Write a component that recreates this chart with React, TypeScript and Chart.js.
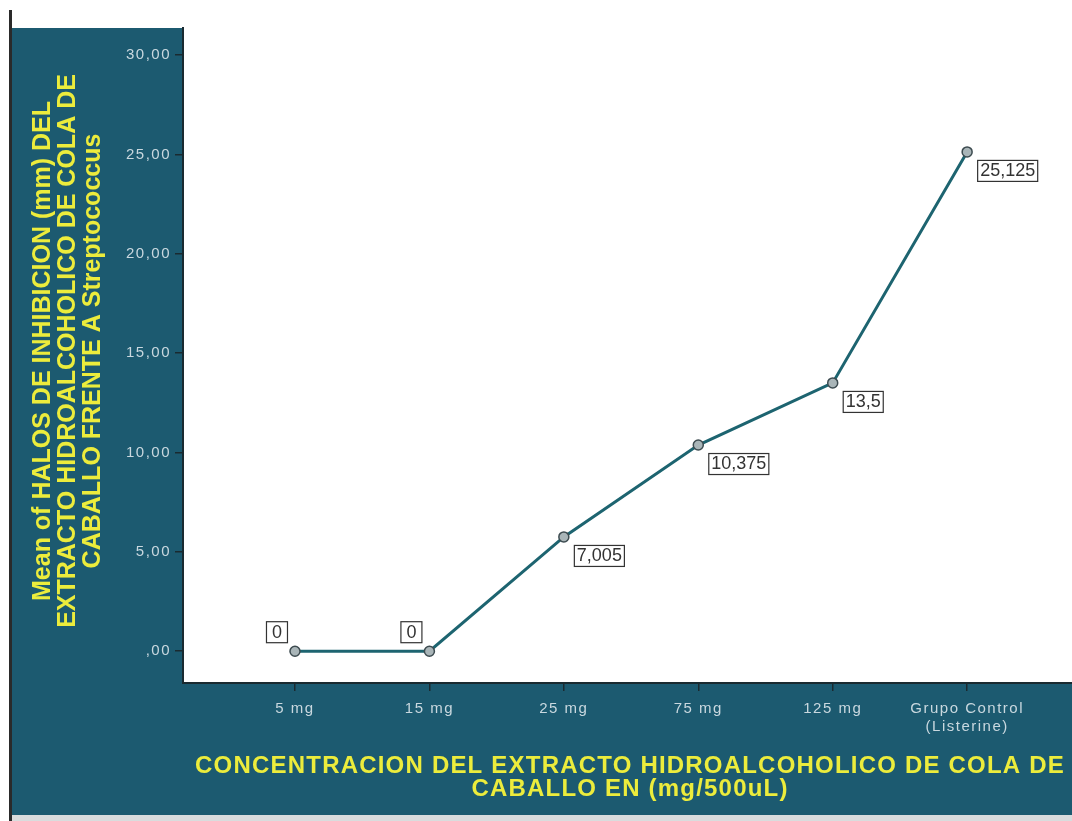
import React, { useEffect, useRef } from "react";
import { Chart, registerables } from "chart.js";

Chart.register(...registerables);

const categories: (string | string[])[] = ["5 mg", "15 mg", "25 mg", "75 mg", "125 mg", ["Grupo Control", "(Listerine)"]];
const meanValues: number[] = [0, 0, 5.75, 10.375, 13.5, 25.125];
const valueLabels: string[] = ["0", "0", "7,005", "10,375", "13,5", "25,125"];
const yTicks: number[] = [0, 5, 10, 15, 20, 25, 30];
const yTitle: string[] = [
  "Mean of HALOS DE INHIBICION (mm) DEL",
  "EXTRACTO HIDROALCOHOLICO DE COLA DE",
  "CABALLO FRENTE A Streptococcus",
];
const xTitle: string[] = [
  "CONCENTRACION DEL EXTRACTO HIDROALCOHOLICO DE COLA DE",
  "CABALLO EN (mg/500uL)",
];

const W = 1072;
const H = 821;
const TEAL = "#1c5a70";
const YELLOW = "#ecec3c";
const TICK = "#c9d8df";
const FONT = "'Liberation Sans', Arial, sans-serif";

const bgPlugin = {
  id: "bgPanel",
  beforeDraw(chart: any) {
    const { ctx, chartArea: a } = chart;
    ctx.save();
    ctx.fillStyle = "#ffffff";
    ctx.fillRect(0, 0, W, H);
    ctx.fillStyle = TEAL;
    ctx.fillRect(12, 28, W - 12, 787);
    ctx.fillStyle = "#2a2a2a";
    ctx.fillRect(9, 10, 3, H - 10);
    ctx.fillStyle = "#d9dcdd";
    ctx.fillRect(12, 815, W - 12, 6);
    ctx.fillStyle = "#ffffff";
    ctx.fillRect(a.left, a.top, a.right - a.left, a.bottom - a.top);
    ctx.restore();
    ctx.letterSpacing = "1.5px";
  },
};

const titlePlugin = {
  id: "titles",
  afterDraw(chart: any) {
    const { ctx } = chart;
    ctx.save();
    ctx.fillStyle = YELLOW;
    ctx.textAlign = "center";
    ctx.textBaseline = "middle";
    ctx.font = `bold 25px ${FONT}`;
    ctx.letterSpacing = "0px";
    ctx.translate(68, 351);
    ctx.rotate(-Math.PI / 2);
    yTitle.forEach((t, i) => {
      ctx.fillText(t, 0, (i - 1) * 25);
    });
    ctx.restore();

    ctx.save();
    ctx.fillStyle = YELLOW;
    ctx.textAlign = "center";
    ctx.textBaseline = "middle";
    ctx.font = `bold 24px ${FONT}`;
    ctx.letterSpacing = "1.2px";
    xTitle.forEach((t, i) => {
      ctx.fillText(t, 630, 766 + i * 23);
    });
    ctx.restore();
    ctx.letterSpacing = "0px";
  },
};

const labelPlugin = {
  id: "valueLabels",
  afterDatasetsDraw(chart: any) {
    const { ctx } = chart;
    const meta = chart.getDatasetMeta(0);
    ctx.save();
    ctx.letterSpacing = "0px";
    ctx.font = `18px ${FONT}`;
    ctx.textBaseline = "middle";
    ctx.textAlign = "center";
    meta.data.forEach((el: any, i: number) => {
      const txt = valueLabels[i];
      const tw = ctx.measureText(txt).width;
      const bw = Math.max(tw + 5, 21);
      const bh = 21;
      let bx: number, by: number;
      if (meanValues[i] === 0) {
        bx = el.x - 8 - bw;
        by = el.y - 9 - bh;
      } else {
        bx = el.x + 10;
        by = el.y + 8;
      }
      ctx.fillStyle = "#ffffff";
      ctx.fillRect(bx, by, bw, bh);
      ctx.strokeStyle = "#333333";
      ctx.lineWidth = 1.2;
      ctx.strokeRect(bx + 0.5, by + 0.5, bw, bh);
      ctx.fillStyle = "#333333";
      ctx.fillText(txt, bx + bw / 2 + 0.5, by + bh / 2 + 1);
    });
    ctx.restore();
  },
};

export default function App() {
  const ref = useRef<HTMLCanvasElement>(null);
  useEffect(() => {
    if (!ref.current) return;
    const chart = new Chart(ref.current, {
      type: "line",
      data: {
        datasets: [
          {
            data: meanValues.map((v, i) => ({ x: i, y: v })),
            borderColor: "#1d6470",
            borderWidth: 3,
            pointRadius: 5,
            pointBackgroundColor: "#a9b5b8",
            pointBorderColor: "#3d4b50",
            pointBorderWidth: 1.5,
            tension: 0,
          },
        ],
      },
      plugins: [bgPlugin, titlePlugin, labelPlugin],
      options: {
        responsive: false,
        animation: false,
        layout: { autoPadding: false, padding: { top: 28, right: 0, left: 0, bottom: 0 } },
        plugins: { legend: { display: false }, tooltip: { enabled: false } },
        scales: {
          x: {
            type: "linear",
            min: -0.833,
            max: 5.78,
            afterBuildTicks: (s: any) => {
              s.ticks = categories.map((_, i) => ({ value: i }));
            },
            afterFit: (s: any) => {
              s.height = H - 683;
              s.paddingLeft = 0;
              s.paddingRight = 0;
            },
            ticks: {
              autoSkip: false,
              maxRotation: 0,
              color: TICK,
              font: { family: FONT, size: 15 },
              padding: 9,
              callback: (v: any) => categories[v as number],
            },
            grid: {
              drawOnChartArea: false,
              drawTicks: true,
              tickLength: 8,
              color: "#1a2a30",
              lineWidth: 1.5,
            },
            border: { display: true, color: "#1a2a30", width: 2 },
          },
          y: {
            type: "linear",
            min: -1.6,
            max: 31.36,
            afterBuildTicks: (s: any) => {
              s.ticks = yTicks.map((v) => ({ value: v }));
            },
            afterFit: (s: any) => {
              s.width = 183;
              s.paddingTop = 0;
              s.paddingBottom = 0;
            },
            ticks: {
              color: TICK,
              font: { family: FONT, size: 15 },
              padding: 4,
              callback: (v: any) => (v === 0 ? ",00" : Number(v).toFixed(2).replace(".", ",")),
            },
            grid: {
              drawOnChartArea: false,
              drawTicks: true,
              tickLength: 8,
              color: "#1a2a30",
              lineWidth: 1.5,
            },
            border: { display: true, color: "#1a2a30", width: 2 },
          },
        },
      },
    } as any);
    return () => chart.destroy();
  }, []);
  return (
    <div style={{ position: "absolute", left: 0, top: 0, width: W, height: H }}>
      <canvas ref={ref} width={W} height={H} style={{ display: "block" }} />
    </div>
  );
}
